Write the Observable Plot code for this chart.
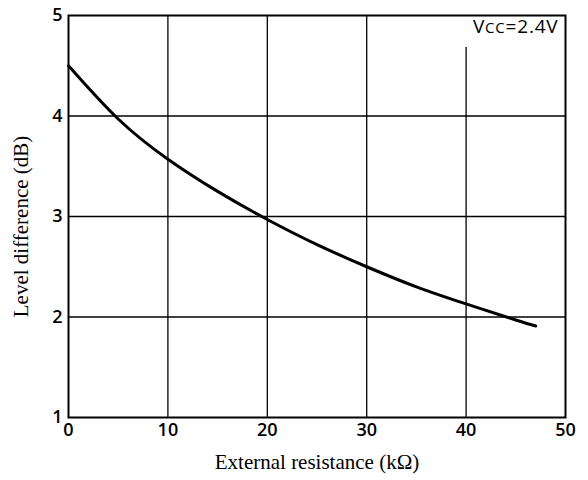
<!DOCTYPE html>
<html>
<head>
<meta charset="utf-8">
<script src="https://cdn.jsdelivr.net/npm/d3@7"></script>
<script src="https://cdn.jsdelivr.net/npm/@observablehq/plot@0.6"></script>
<style>
  html, body { margin: 0; padding: 0; background: #fff; }
  svg { display: block; }
</style>
</head>
<body>
<div id="chart"></div>
<script>
// Data
const resistance = [0, 5, 10, 15, 20, 25, 30, 35, 40, 45, 47];
const levelDiff  = [4.50, 3.97, 3.57, 3.25, 2.97, 2.72, 2.50, 2.30, 2.13, 1.97, 1.91];
const xTicks = [0, 10, 20, 30, 40, 50];
const yTicks = [1, 2, 3, 4, 5];
const xLabel = "External resistance (kΩ)";
const yLabel = "Level difference (dB)";
const note = "VCC=2.4V";

const data = resistance.map((r, i) => ({r, v: levelDiff[i]}));

const tickFont = "'Open Sans', sans-serif";
const serif = "'Liberation Serif', 'Times New Roman', serif";

const chart = Plot.plot({
  width: 588,
  height: 480,
  marginLeft: 68,
  marginRight: 23,
  marginTop: 15,
  marginBottom: 63,
  style: {background: "#fff", color: "#000"},
  x: {domain: [0, 50]},
  y: {domain: [1, 5]},
  marks: [
    Plot.gridX(xTicks.filter(d => d > 0 && d < 50), {stroke: "#000", strokeOpacity: 1, strokeWidth: 1.3}),
    Plot.gridY(yTicks.filter(d => d > 1 && d < 5), {stroke: "#000", strokeOpacity: 1, strokeWidth: 1.3}),
    Plot.text([note], {frameAnchor: "top-right", dx: -7, dy: 4, textAnchor: "end", lineAnchor: "top",
      fontSize: 19, fontFamily: tickFont, fill: "#000", className: "vcc"}),
    Plot.frame({stroke: "#000", strokeWidth: 2}),
    Plot.axisX(xTicks, {tickSize: 0, tickPadding: 6, fontSize: 18, fontWeight: 600, fontFamily: tickFont, tickFormat: d3.format("d"), label: null}),
    Plot.axisY(yTicks, {tickSize: 0, tickPadding: 6, fontSize: 18, fontWeight: 600, fontFamily: tickFont, tickFormat: d3.format("d"), label: null}),
    Plot.line(data, {x: "r", y: "v", stroke: "#000", strokeWidth: 3, curve: "natural"}),
    Plot.text([xLabel], {frameAnchor: "bottom", dy: 45, lineAnchor: "middle", textAnchor: "middle", fontSize: 21, fontFamily: serif, fill: "#000"}),
    Plot.text([yLabel], {frameAnchor: "left", dx: -47, dy: 10, rotate: -90, textAnchor: "middle", lineAnchor: "middle", fontSize: 21, fontFamily: serif, fill: "#000"})
  ]
});

// Render VCC with a smaller "CC" part
d3.select(chart).selectAll(".vcc text").each(function() {
  const t = d3.select(this);
  const s = t.text();
  t.text(null).attr("letter-spacing", 0.8);
  t.append("tspan").text(s.slice(0, 1));
  t.append("tspan").attr("font-size", 15).text(s.slice(1, 3));
  t.append("tspan").text(s.slice(3));
});

document.getElementById("chart").appendChild(chart);

// White background box behind the VCC label (interrupts the grid line)
const g = chart.querySelector(".vcc");
const txt = g.querySelector("text");
const bb = txt.getBBox();
const m = txt.getCTM();
const rect = document.createElementNS("http://www.w3.org/2000/svg", "rect");
rect.setAttribute("x", bb.x - 8);
rect.setAttribute("y", bb.y - 8);
rect.setAttribute("width", bb.width + 14);
rect.setAttribute("height", bb.height + 16);
rect.setAttribute("fill", "#fff");
txt.parentNode.insertBefore(rect, txt);
if (txt.getAttribute("transform")) rect.setAttribute("transform", txt.getAttribute("transform"));
</script>
</body>
</html>
